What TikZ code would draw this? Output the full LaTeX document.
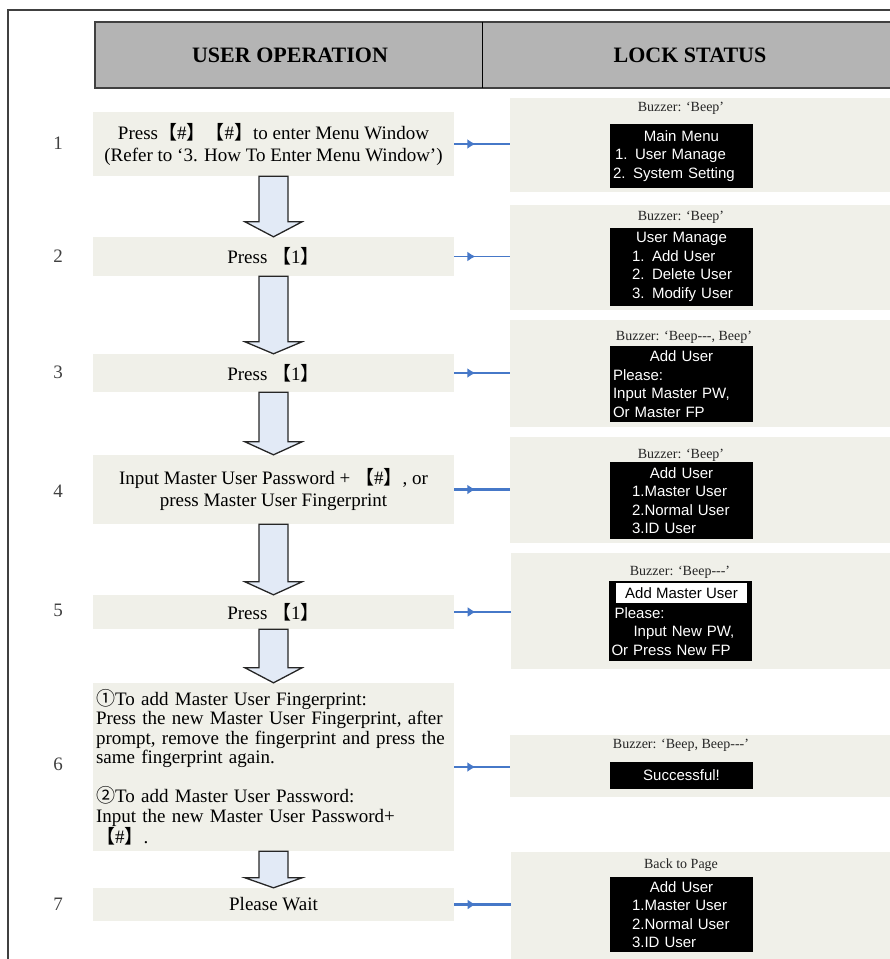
\documentclass[tikz,border=0pt]{standalone}
\usepackage{fontspec}
\setmainfont{Liberation Serif}
\newfontfamily\scrfont{Liberation Sans}
\newfontfamily\cjk{Noto Sans CJK SC}
\usepackage{tikz}
\usetikzlibrary{calc,arrows.meta,decorations.markings}
\definecolor{opfill}{RGB}{240,240,233}
\definecolor{headfill}{RGB}{180,180,180}
\definecolor{linkblue}{RGB}{70,120,200}
\definecolor{arrfill}{RGB}{226,234,246}
\def\kb#1{{\cjk 【}#1{\cjk 】}}
\def\scrtitle#1{\makebox[137pt]{#1}}
\def\flowarrow(#1)(#2)(#3){\draw[flowarr] ([xshift=-14.5pt]#1.south) -- ([xshift=14.5pt]#1.south) -- ([xshift=14.5pt,yshift=#3pt]#2.north) -- ([xshift=28.5pt,yshift=#3pt]#2.north) -- (#2.north) -- ([xshift=-28.5pt,yshift=#3pt]#2.north) -- ([xshift=-14.5pt,yshift=#3pt]#2.north) -- cycle;}
\tikzset{
	opbox/.style={fill=opfill, minimum width=361pt, inner sep=0pt, align=center, font=\fontsize{19}{22}\selectfont},
	statbox/.style={fill=opfill, minimum width=382pt, inner sep=0pt},
	screen/.style={fill=black, text=white, text width=137pt, inner xsep=3pt, inner ysep=1pt, align=left, font=\scrfont\fontsize{15}{18.5}\selectfont},
	buzz/.style={font=\fontsize{14}{16}\selectfont, inner sep=0pt, text=black!85},
	stepnum/.style={font=\fontsize{19}{22}\selectfont, text=black!75},
	headtxt/.style={font=\bfseries\fontsize{22}{26}\selectfont},
	conn/.style={linkblue, line width=2.8pt, decoration={markings, mark=at position 0.38 with {\arrow{Latex[length=8pt,width=10pt]}}}, postaction=decorate},
	connthin/.style={conn, line width=1.5pt},
	flowarr/.style={fill=arrfill, draw=black!85, line width=1.3pt, line join=miter}
}
\begin{document}
\begin{tikzpicture}[x=1pt, y=-1pt]
			%%%%% START %%%%%
			\useasboundingbox (0,0) rectangle (890,959);
			
			\draw[line width=2.5pt, color=black!75] (8,962) -- (8,10) -- (893,10);
			
			\draw[fill=headfill, line width=2pt, draw=black!75] (95,22) rectangle (893,88);
			\draw[line width=1pt] (482,22) -- (482,88);
			\node[headtxt] (hop) at (290,55) {USER OPERATION};
			\node[headtxt] (hlk) at (690,55) {LOCK STATUS};
			
			\node[statbox, minimum height=94pt] (st1) at (701,145) {};
			\node[statbox, minimum height=105pt] (st2) at (701,257.5) {};
			\node[statbox, minimum height=107pt] (st3) at (701,373.5) {};
			\node[statbox, minimum height=106pt] (st4) at (701,490) {};
			\node[statbox, minimum height=116pt] (st5) at (702,611) {};
			\node[statbox, minimum height=62pt] (st6) at (701,766) {};
			\node[statbox, minimum height=107pt] (st7) at (702,905.5) {};
			
			\node[stepnum] (n1) at (58,143) {1};
			\node[stepnum] (n2) at (58,256) {2};
			\node[stepnum] (n3) at (58,372) {3};
			\node[stepnum] (n4) at (58,491) {4};
			\node[stepnum] (n5) at (58,610) {5};
			\node[stepnum] (n6) at (58,764) {6};
			\node[stepnum] (n7) at (58,904) {7};
			
			\node[opbox, minimum height=64pt] (op1) at (273.5,144) {Press\kb{\#}\kb{\#}to enter Menu Window\\(Refer to ‘3. How To Enter Menu Window’)};
			\node[opbox, minimum height=39pt] (op2) at (273.5,256.5) {Press \kb{1}};
			\node[opbox, minimum height=38pt] (op3) at (273.5,373) {Press \kb{1}};
			\node[opbox, minimum height=69pt] (op4) at (273.5,489.5) {Input Master User Password + \kb{\#}, or\\press Master User Fingerprint};
			\node[opbox, minimum height=34pt] (op5) at (273.5,612) {Press \kb{1}};
			\node[opbox, minimum height=168pt, text width=355pt, align=left, font=\fontsize{19}{19.5}\selectfont] (op6) at (273.5,767) {{\cjk ①}To add Master User Fingerprint:\\
				Press the new Master User Fingerprint, after\\
				prompt, remove the fingerprint and press the\\
				same fingerprint again.\\[18pt]
				{\cjk ②}To add Master User Password:\\
				Input the new Master User Password+\\
				\kb{\#}.};
			\node[opbox, minimum height=33pt] (op7) at (273.5,904.5) {Please Wait};
			
			\flowarrow(op1)(op2)(15)
			\flowarrow(op2)(op3)(12)
			\flowarrow(op3)(op4)(13)
			\flowarrow(op4)(op5)(13)
			\flowarrow(op5)(op6)(15)
			\flowarrow(op6)(op7)(10)
			
			\draw[conn] (op1.east) -- (op1.east -| st1.west);
			\draw[connthin] (op2.east) -- (op2.east -| st2.west);
			\draw[conn] (op3.east) -- (op3.east -| st3.west);
			\draw[conn] (op4.east) -- (op4.east -| st4.west);
			\draw[connthin] (op5.east) -- (op5.east -| st5.west);
			\draw[conn] (op6.east) -- (op6.east -| st6.west);
			\draw[conn] (op7.east) -- (op7.east -| st7.west);
			
			\node[buzz] (bz1) at (681,108) {Buzzer: ‘Beep’};
			\node[screen, minimum height=64pt] (sc1) at (681.5,156) {\scrtitle{Main Menu}\\\hspace*{2pt}1. User Manage\\2. System Setting};
			
			\node[buzz] (bz2) at (681,217) {Buzzer: ‘Beep’};
			\node[screen, minimum height=78pt] (sc2) at (681.5,267) {\scrtitle{User Manage}\\\hspace*{19pt}1. Add User\\\hspace*{19pt}2. Delete User\\\hspace*{19pt}3. Modify User};
			
			\node[buzz] (bz3) at (684,337) {Buzzer: ‘Beep-{}-{}-, Beep’};
			\node[screen, minimum height=76pt] (sc3) at (681.5,384) {\scrtitle{Add User}\\Please:\\Input Master PW,\\Or Master FP};
			
			\node[buzz] (bz4) at (681,455) {Buzzer: ‘Beep’};
			\node[screen, minimum height=77pt] (sc4) at (681.5,500.5) {\scrtitle{Add User}\\\hspace*{19pt}1.Master User\\\hspace*{19pt}2.Normal User\\\hspace*{19pt}3.ID User};
			
			\node[buzz] (bz5) at (680,572) {Buzzer: ‘Beep-{}-{}-’};
			\node[screen, minimum height=80pt] (sc5) at (680,621) {\strut\\\hspace*{3pt}Please:\\\hspace*{22pt}Input New PW,\\Or Press New FP};
			\node[fill=white, text=black, font=\scrfont\fontsize{15}{18.5}\selectfont, minimum width=131pt, minimum height=20pt, inner sep=0pt] (hl5) at (681.5,593) {Add Master User};
			
			\node[buzz] (bz6) at (681,745) {Buzzer: ‘Beep, Beep-{}-{}-’};
			\node[screen, minimum height=27pt] (sc6) at (681.5,775.5) {\scrtitle{Successful!}};
			
			\node[buzz] (bz7) at (681,865) {Back to Page};
			\node[screen, minimum height=75pt] (sc7) at (681.5,914.5) {\scrtitle{Add User}\\\hspace*{19pt}1.Master User\\\hspace*{19pt}2.Normal User\\\hspace*{19pt}3.ID User};
			
			%%%%% END %%%%%
\end{tikzpicture}
\end{document}
